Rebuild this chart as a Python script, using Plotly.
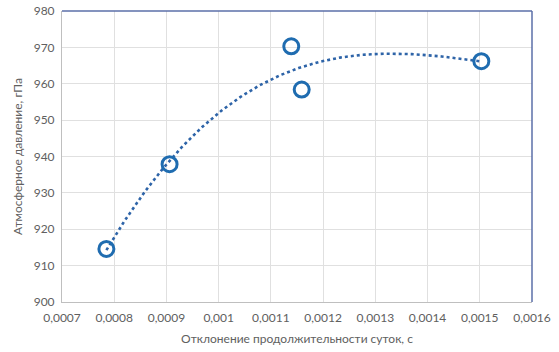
import numpy as np
import plotly.graph_objects as go

x_vals = [0.000785, 0.000906, 0.001139, 0.001159, 0.001503]
y_vals = [914.6, 937.9, 970.3, 958.4, 966.2]

x_ticks = [0.0007, 0.0008, 0.0009, 0.0010, 0.0011, 0.0012, 0.0013, 0.0014, 0.0015, 0.0016]
x_tick_labels = ["0,0007", "0,0008", "0,0009", "0,001", "0,0011", "0,0012", "0,0013", "0,0014", "0,0015", "0,0016"]
y_ticks = [900, 910, 920, 930, 940, 950, 960, 970, 980]

# polynomial trendline fitted to the data, as in the spreadsheet
coef = np.polyfit(np.array(x_vals) * 1e4, y_vals, 3)
tx = np.linspace(min(x_vals), max(x_vals), 200)
ty = np.polyval(coef, tx * 1e4)

blue = "#1f6cb0"
fig = go.Figure()
fig.add_trace(go.Scatter(x=tx, y=ty, mode="lines",
                         line=dict(color="#2e64a8", width=2.6, dash="dot"),
                         hoverinfo="skip", showlegend=False))
fig.add_trace(go.Scatter(x=x_vals, y=y_vals, mode="markers",
                         marker=dict(symbol="circle-open", size=15, color=blue,
                                     line=dict(color=blue, width=3)),
                         showlegend=False))

font = dict(family="Lato, Open Sans, sans-serif", size=12, color="#606060")
fig.update_layout(
    width=559, height=352,
    margin=dict(l=62, r=27, t=11, b=50),
    paper_bgcolor="white", plot_bgcolor="white",
    font=font,
    separators=", ",
    xaxis=dict(range=[0.0007, 0.0016], tickvals=x_ticks, ticktext=x_tick_labels,
               automargin=False,
               showgrid=True, gridcolor="#e0e0e0", gridwidth=1,
               showline=True, linecolor="#bfbfbf", linewidth=1, zeroline=False,
               ticks="", ticklen=0, ticklabelstandoff=5,
               title=dict(text="Отклонение продолжительности суток, с", standoff=10,
                          font=dict(size=12, color="#606060"))),
    yaxis=dict(range=[900, 980], tickvals=y_ticks,
               automargin=False,
               showgrid=True, gridcolor="#e0e0e0", gridwidth=1,
               showline=True, linecolor="#bfbfbf", linewidth=1, zeroline=False,
               ticks="", ticklen=0, ticklabelstandoff=4,
               title=dict(text="Атмосферное давление, гПа", standoff=8,
                          font=dict(size=12, color="#606060"))),
    shapes=[
        dict(type="line", xref="paper", yref="paper", x0=0, x1=1, y0=1, y1=1,
             line=dict(color="#5b6fa8", width=1.5)),
        dict(type="line", xref="paper", yref="paper", x0=1, x1=1, y0=0, y1=1,
             line=dict(color="#5b6fa8", width=1.5)),
    ],
)

fig.write_html("out.html", config={"displayModeBar": False},
               post_script="document.body.style.margin='0';document.body.style.overflow='hidden';")
